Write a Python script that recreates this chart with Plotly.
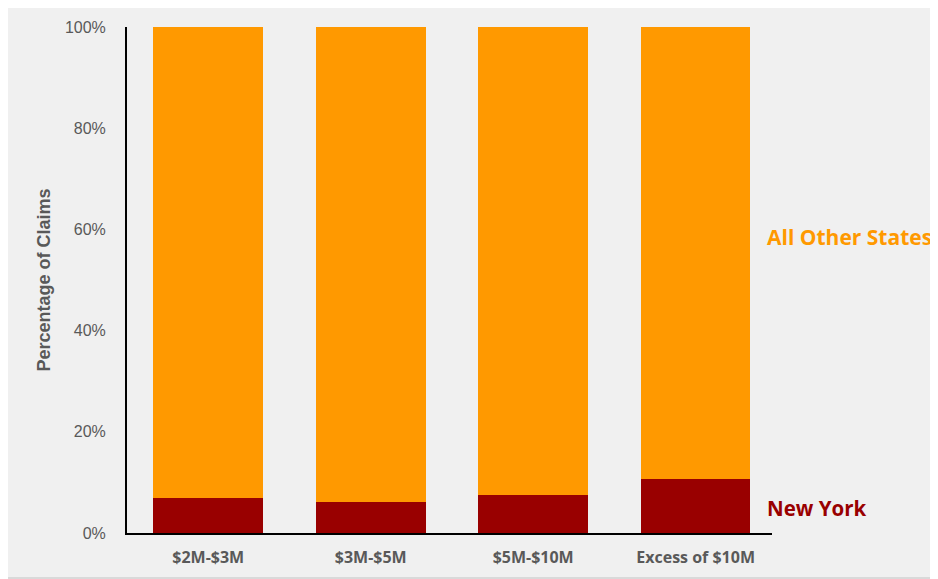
import plotly.graph_objects as go

categories = ["$2M-$3M", "$3M-$5M", "$5M-$10M", "Excess of $10M"]
new_york = [7.0, 6.1, 7.6, 10.7]
all_other = [100 - v for v in new_york]
y_ticks = [0, 20, 40, 60, 80, 100]
y_tick_labels = ["0%", "20%", "40%", "60%", "80%", "100%"]

# page has an 8px body margin, so the figure is sized to fill the rest
W, H = 930, 571
ML, MR, MT, MB = 119, 166, 19, 46
pw = W - ML - MR
ph = H - MT - MB

fig = go.Figure()
fig.add_trace(go.Bar(x=categories, y=new_york, name="New York",
                     marker=dict(color="#990000", line=dict(width=0))))
fig.add_trace(go.Bar(x=categories, y=all_other, name="All Other States",
                     marker=dict(color="#FF9900", line=dict(width=0))))

fig.update_layout(
    width=W, height=H, barmode="stack", bargap=0.325,
    paper_bgcolor="#F0F0F0", plot_bgcolor="#F0F0F0",
    margin=dict(l=ML, r=MR, t=MT, b=MB, autoexpand=False),
    showlegend=False,
    xaxis=dict(showline=True, linecolor="#000000", linewidth=2, ticks="",
               showgrid=False, zeroline=False, ticklabelstandoff=9,
               tickfont=dict(family="Open Sans, Roboto, sans-serif", size=16, color="#595959",
                             weight="bold"),
               range=[-0.5, 3.47]),
    yaxis=dict(range=[0, 100], tickvals=y_ticks, ticktext=y_tick_labels,
               showline=True, linecolor="#000000", linewidth=2, ticks="",
               showgrid=False, zeroline=False, ticklabelstandoff=16,
               tickfont=dict(family="Liberation Sans, Arial, sans-serif", size=16, color="#595959"),
               title=dict(text="Percentage of Claims", standoff=10,
                          font=dict(family="Liberation Sans, Arial, sans-serif", size=18,
                                    color="#595959", weight="bold"))),
)

fig.add_annotation(x=1.0, xref="paper", xanchor="left", xshift=-7,
                   y=58.5, yref="y", yanchor="middle",
                   text="<b>All Other States</b>", showarrow=False,
                   font=dict(family="Open Sans, Roboto, sans-serif", size=21, color="#FF9900"))
fig.add_annotation(x=1.0, xref="paper", xanchor="left", xshift=-7,
                   y=4.9, yref="y", yanchor="middle",
                   text="<b>New York</b>", showarrow=False,
                   font=dict(family="Open Sans, Roboto, sans-serif", size=20.5, color="#990000"))

# outer border on the right and bottom edges of the page
fig.add_shape(type="line", xref="paper", yref="paper",
              x0=(W - 1 - ML) / pw, x1=(W - 1 - ML) / pw,
              y0=-(MB - 1) / ph, y1=1 + MT / ph,
              line=dict(color="#D9D9D9", width=2), layer="below")
fig.add_shape(type="line", xref="paper", yref="paper",
              x0=-ML / pw, x1=(W - ML) / pw,
              y0=-(MB - 1) / ph, y1=-(MB - 1) / ph,
              line=dict(color="#D9D9D9", width=2), layer="below")

fig.write_html("out.html")
